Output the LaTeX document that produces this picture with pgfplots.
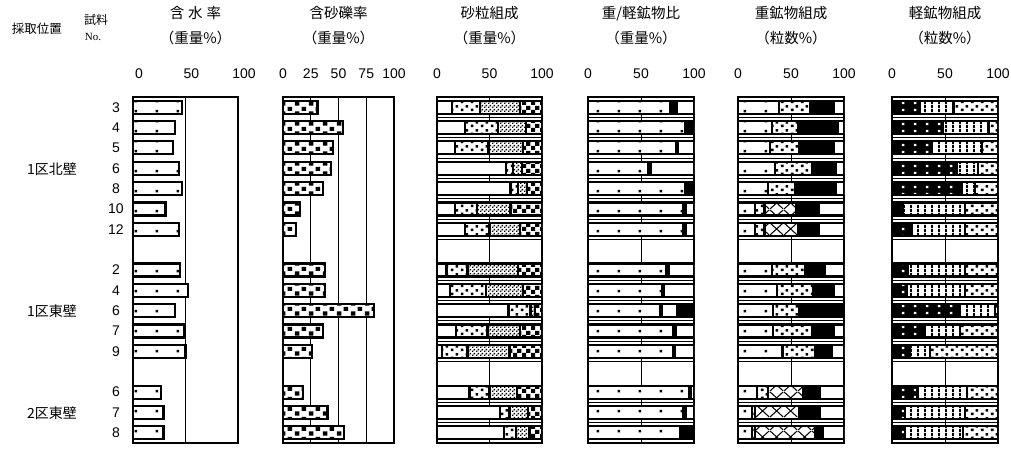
\documentclass[border=0pt]{standalone}
\usepackage{fontspec}
\setmainfont{Liberation Sans}
\newfontfamily\jp{Noto Sans CJK JP}
\newfontfamily\tms{Liberation Serif}
\usepackage{pgfplots}
\pgfplotsset{compat=1.18}
\usepackage{pgfplotstable}
\usetikzlibrary{patterns}

% coarse hand-made fills of the scanned original
\pgfdeclarepatternformonly{sdots}{\pgfqpoint{0pt}{0pt}}{\pgfqpoint{21pt}{10pt}}{\pgfqpoint{21pt}{10pt}}{%
  \pgfpathrectangle{\pgfqpoint{9pt}{4pt}}{\pgfqpoint{2.6pt}{2.6pt}}\pgfusepath{fill}}
\pgfdeclarepatternformonly{mdots}{\pgfqpoint{0pt}{0pt}}{\pgfqpoint{10pt}{8pt}}{\pgfqpoint{10pt}{8pt}}{%
  \pgfpathrectangle{\pgfqpoint{1pt}{1pt}}{\pgfqpoint{2.8pt}{2.8pt}}%
  \pgfpathrectangle{\pgfqpoint{6pt}{5pt}}{\pgfqpoint{2.8pt}{2.8pt}}\pgfusepath{fill}}
\pgfdeclarepatternformonly{wdots}{\pgfqpoint{0pt}{0pt}}{\pgfqpoint{12pt}{7pt}}{\pgfqpoint{12pt}{7pt}}{%
  \pgfpathrectangle{\pgfqpoint{2pt}{2pt}}{\pgfqpoint{2.6pt}{2.6pt}}\pgfusepath{fill}}
\pgfdeclarepatternformonly{fine}{\pgfqpoint{0pt}{0pt}}{\pgfqpoint{4pt}{4pt}}{\pgfqpoint{4pt}{4pt}}{%
  \pgfpathrectangle{\pgfqpoint{0pt}{0pt}}{\pgfqpoint{1.8pt}{1.8pt}}%
  \pgfpathrectangle{\pgfqpoint{2pt}{2pt}}{\pgfqpoint{1.8pt}{1.8pt}}\pgfusepath{fill}}
\pgfdeclarepatternformonly{checker}{\pgfqpoint{0pt}{0pt}}{\pgfqpoint{9pt}{9pt}}{\pgfqpoint{9pt}{9pt}}{%
  \pgfpathrectangle{\pgfqpoint{0pt}{0pt}}{\pgfqpoint{4.5pt}{4.5pt}}%
  \pgfpathrectangle{\pgfqpoint{4.5pt}{4.5pt}}{\pgfqpoint{4.5pt}{4.5pt}}\pgfusepath{fill}}
\pgfdeclarepatternformonly{gravel}{\pgfqpoint{0pt}{0pt}}{\pgfqpoint{14pt}{10pt}}{\pgfqpoint{14pt}{10pt}}{%
  \pgfpathrectangle{\pgfqpoint{1pt}{0.5pt}}{\pgfqpoint{4.8pt}{4.6pt}}%
  \pgfpathrectangle{\pgfqpoint{8pt}{5.5pt}}{\pgfqpoint{4.8pt}{4.6pt}}\pgfusepath{fill}}
\pgfdeclarepatternformonly{xcross}{\pgfqpoint{0pt}{0pt}}{\pgfqpoint{14pt}{13pt}}{\pgfqpoint{14pt}{13pt}}{%
  \pgfsetlinewidth{1.1pt}%
  \pgfpathmoveto{\pgfqpoint{0pt}{0pt}}\pgfpathlineto{\pgfqpoint{14pt}{13pt}}%
  \pgfpathmoveto{\pgfqpoint{0pt}{13pt}}\pgfpathlineto{\pgfqpoint{14pt}{0pt}}\pgfusepath{stroke}}
\pgfdeclarepatternformonly{vstripes}{\pgfqpoint{0pt}{0pt}}{\pgfqpoint{7pt}{4pt}}{\pgfqpoint{7pt}{4pt}}{%
  \pgfpathrectangle{\pgfqpoint{0pt}{0pt}}{\pgfqpoint{2.2pt}{4pt}}\pgfusepath{fill}}

% water content
\pgfplotstableread{
s v
0 47
1 40
2 38
3 44
4 47
5 31
6 44
8 45
9 52
10 40
11 49
12 50
14 27
15 29
16 29
}\tWater

% sand and gravel content
\pgfplotstableread{
s v
0 31
1 54
2 45
3 43
4 36
5 15
6 12
8 38
9 38
10 82
11 36
12 26
14 18
15 40
16 55
}\tGravel

% sand grain composition
\pgfplotstableread{
s a b c d
0 14 27 38 21
1 27 31 27 15
2 17 32 33 18
3 66 6 9 19
4 70 7 9 14
5 17 21 32 30
6 27 23 29 21
8 9 20 48 23
9 12 35 35 18
10 68 21 4 7
11 18 30 31 21
12 5 24 40 31
14 31 19 26 24
15 60 9 18 13
16 64 11 13 12
}\tSand

% heavy / light ratio
\pgfplotstableread{
s a b c d
0 77 7 16 0
1 92 7 1 0
2 83 2 15 0
3 57 2 41 0
4 92 8 0 0
5 90 2 8 0
6 90 2 8 0
8 74 2 24 0
9 70 2 28 0
10 68 2 14 16
11 80 3 17 0
12 80 2 18 0
14 95 2 3 0
15 90 2 8 0
16 87 13 0 0
}\tRatio

% heavy minerals
\pgfplotstableread{
s a b c d e
0 39 29 0 22 10
1 32 25 0 37 6
2 30 28 0 32 10
3 35 35 0 22 8
4 28 26 0 38 8
5 16 9 30 21 24
6 16 9 32 19 24
8 32 31 0 19 18
9 37 34 0 19 10
10 33 25 0 42 0
11 33 37 0 20 10
12 42 31 0 16 11
14 18 10 33 16 23
15 13 3 42 19 23
16 13 3 57 7 20
}\tHeavy

% light minerals
\pgfplotstableread{
s a b c
0 26 32 42
1 48 43 9
2 38 47 15
3 61 20 19
4 66 12 22
5 10 59 31
6 19 50 31
8 15 54 31
9 14 55 31
10 64 33 3
11 31 33 36
12 17 19 64
14 24 47 29
15 12 57 31
16 12 55 33
}\tLight

\pgfplotsset{
  panel/.style={
    scale only axis, width=#1, height=346pt,
    xmin=0, xmax=100, ymin=-0.5, ymax=16.5, y dir=reverse,
    xbar stacked, bar width=13pt,
    xtick={0,50,100}, xticklabel pos=upper, major tick length=0pt,
    xmajorgrids, major grid style={line width=0.9pt, black},
    ytick=\empty,
    axis line style={line width=2.6pt},
    /pgf/number format/assume math mode=true,
    tick label style={font=\fontsize{14}{14}\selectfont},
    xticklabel style={anchor=center, yshift=23pt},
    title style={font=\jp\fontsize{14.5}{25}\selectfont, align=center,
      at={(0.5,1)}, anchor=center, yshift=65pt},
    every axis plot/.append style={draw=black, line width=2.2pt},
  },
  seps/.style={
    extra y ticks={0.5,1.5,2.5,3.5,4.5,5.5,6.5,8.5,9.5,10.5,11.5,12.5,14.5,15.5},
    extra y tick labels={},
    extra y tick style={grid=major, major grid style={line width=1pt, black}},
  },
}

\begin{document}
\begin{tikzpicture}
\useasboundingbox (0,0) rectangle (1011pt,-455pt);

\node[font=\jp\fontsize{12.5}{13}\selectfont] at (37pt,-29pt) {採取位置};
\node[font=\jp\fontsize{12}{13}\selectfont] at (96pt,-20pt) {試料};
\node[font=\tms\fontsize{11}{12}\selectfont] at (93pt,-37pt) {No.};
\node[font=\jp\fontsize{14}{15}\selectfont] at (52pt,-169pt) {1区北壁};
\node[font=\jp\fontsize{14}{15}\selectfont] at (52pt,-311pt) {1区東壁};
\node[font=\jp\fontsize{14}{15}\selectfont] at (52pt,-413pt) {2区東壁};

% 1 water content
\begin{axis}[panel=105pt, at={(133pt,-97pt)}, anchor=north west,
  title={含\hspace{4pt}水\hspace{4pt}率\\（重量\%）}, title style={xshift=10pt},
  xticklabel style={xshift=6pt},
  ytick={0,1,2,3,4,5,6,8,9,10,11,12,14,15,16},
  yticklabels={3,4,5,6,8,10,12,2,4,6,7,9,6,7,8},
  yticklabel style={anchor=center, xshift=-17pt}]
\addplot[fill=white, postaction={pattern=sdots}] table[x=v, y=s] {\tWater};
\end{axis}

% 2 sand and gravel
\begin{axis}[panel=111pt, at={(283pt,-97pt)}, anchor=north west,
  xtick={0,25,50,75,100},
  title={含砂礫率\\（重量\%）}]
\addplot[fill=white, postaction={pattern=gravel}] table[x=v, y=s] {\tGravel};
\end{axis}

% 3 sand grains
\begin{axis}[panel=105pt, seps, at={(437pt,-97pt)}, anchor=north west,
  title={砂粒組成\\（重量\%）}]
\addplot[fill=white] table[x=a, y=s] {\tSand};
\addplot[fill=white, postaction={pattern=mdots}] table[x=b, y=s] {\tSand};
\addplot[fill=white, postaction={pattern=fine}] table[x=c, y=s] {\tSand};
\addplot[fill=white, postaction={pattern=checker}] table[x=d, y=s] {\tSand};
\end{axis}

% 4 heavy/light ratio
\begin{axis}[panel=106pt, seps, at={(588pt,-97pt)}, anchor=north west,
  title={重/軽鉱物比\\（重量\%）}]
\addplot[fill=white, postaction={pattern=sdots}] table[x=a, y=s] {\tRatio};
\addplot[fill=black] table[x=b, y=s] {\tRatio};
\addplot[fill=white] table[x=c, y=s] {\tRatio};
\addplot[fill=black] table[x=d, y=s] {\tRatio};
\end{axis}

% 5 heavy minerals
\begin{axis}[panel=106pt, seps, at={(738pt,-97pt)}, anchor=north west,
  title={重鉱物組成\\（粒数\%）}]
\addplot[fill=white, postaction={pattern=sdots}] table[x=a, y=s] {\tHeavy};
\addplot[fill=white, postaction={pattern=mdots}] table[x=b, y=s] {\tHeavy};
\addplot[fill=white, postaction={pattern=xcross}] table[x=c, y=s] {\tHeavy};
\addplot[fill=black] table[x=d, y=s] {\tHeavy};
\addplot[fill=white] table[x=e, y=s] {\tHeavy};
\end{axis}

% 6 light minerals
\begin{axis}[panel=106pt, seps, at={(892pt,-97pt)}, anchor=north west,
  title={軽鉱物組成\\（粒数\%）}]
\addplot[fill=black, postaction={pattern=wdots, pattern color=white}] table[x=a, y=s] {\tLight};
\addplot[fill=white, postaction={pattern=vstripes}] table[x=b, y=s] {\tLight};
\addplot[fill=white, postaction={pattern=mdots}] table[x=c, y=s] {\tLight};
\end{axis}
\end{tikzpicture}
\end{document}
